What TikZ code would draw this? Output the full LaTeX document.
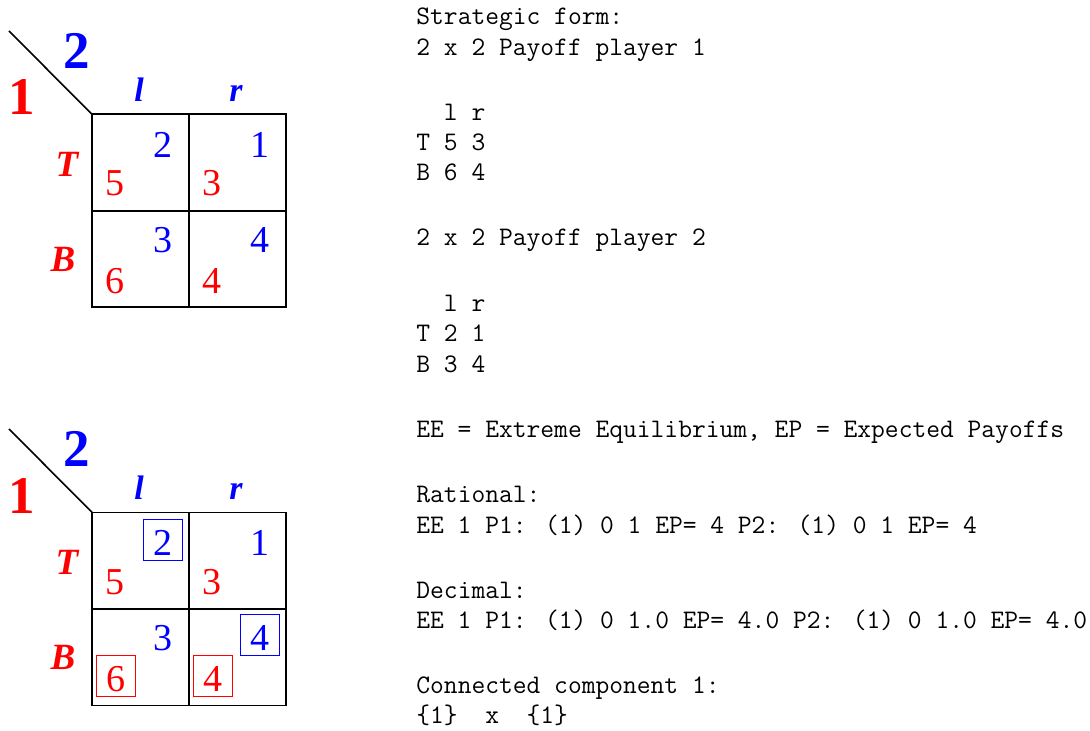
\documentclass[tikz,border=0pt]{standalone}
\usepackage{fontspec}
\newfontfamily\timesf{Liberation Serif}
\begin{document}
\begin{tikzpicture}[x=0.5pt,y=-0.5pt,
  gridline/.style={line width=0.8pt, black},
  player/.style={font=\timesf\bfseries\fontsize{26.5}{26.5}\selectfont, inner sep=0pt, anchor=base},
  stratcol/.style={font=\timesf\bfseries\itshape\fontsize{17}{17}\selectfont, inner sep=0pt, anchor=base, color=blue},
  stratrow/.style={font=\timesf\bfseries\itshape\fontsize{18.5}{18.5}\selectfont, inner sep=0pt, anchor=base, color=red},
  pay/.style={font=\timesf\fontsize{19}{19}\selectfont, inner sep=0pt, anchor=base},
  payA/.style={pay, color=red},
  payB/.style={pay, color=blue},
  boxed/.style={draw, line width=0.4pt, text height=18pt, text depth=2.5pt, minimum width=19.5pt},
  tline/.style={font=\ttfamily\fontsize{13.38}{15}\selectfont, inner sep=0pt, anchor=base west}
]
\useasboundingbox (0,0) rectangle (1090,731);

% ---------- Game 1 ----------
\coordinate (g1d) at (9,31);
\coordinate (g1nw) at (92,114.3);
\coordinate (g1se) at (286,307.3);
\draw[gridline] (g1d) -- (g1nw);
\draw[gridline] (g1nw) rectangle (g1se);
\draw[gridline] (189,114.3) -- (189,307.3);
\draw[gridline] (92,211) -- (286,211);
\node[player, color=blue] (g1p2) at (77,68.3) {2};
\node[player, color=red] (g1p1) at (22,115) {1};
\node[stratcol] (g1l) at (139,101.7) {l};
\node[stratcol] (g1r) at (236,101.7) {r};
\node[stratrow] (g1T) at (67,176.7) {T};
\node[stratrow] (g1B) at (63,271.7) {B};
\node[payB] (g1b11) at (163,157.3) {2};
\node[payB] (g1b12) at (260,157.3) {1};
\node[payB] (g1b21) at (163,252.3) {3};
\node[payB] (g1b22) at (260,252.3) {4};
\node[payA] (g1a11) at (115,196) {5};
\node[payA] (g1a12) at (212,196) {3};
\node[payA] (g1a21) at (115,293.5) {6};
\node[payA] (g1a22) at (212,293.5) {4};

% ---------- Game 2 ----------
\begin{scope}[shift={(0,398)}]
\coordinate (g2d) at (9,31);
\coordinate (g2nw) at (92,114.3);
\coordinate (g2se) at (286,307.3);
\draw[gridline] (g2d) -- (g2nw);
\draw[gridline] (g2nw) rectangle (g2se);
\draw[gridline] (189,114.3) -- (189,307.3);
\draw[gridline] (92,211) -- (286,211);
\node[player, color=blue] (g2p2) at (77,68.3) {2};
\node[player, color=red] (g2p1) at (22,115) {1};
\node[stratcol] (g2l) at (139,101.7) {l};
\node[stratcol] (g2r) at (236,101.7) {r};
\node[stratrow] (g2T) at (67,176.7) {T};
\node[stratrow] (g2B) at (63,271.7) {B};
\node[payB, boxed] (g2b11) at (163,157.3) {2};
\node[payB] (g2b12) at (260,157.3) {1};
\node[payB] (g2b21) at (163,252.3) {3};
\node[payB, boxed] (g2b22) at (260,252.3) {4};
\node[payA] (g2a11) at (115,196) {5};
\node[payA] (g2a12) at (212,196) {3};
\node[payA, boxed] (g2a21) at (116,293.5) {6};
\node[payA, boxed] (g2a22) at (213,293.5) {4};
\end{scope}

% ---------- Text ----------
\node[tline] (t01) at (416,25) {Strategic form:};
\node[tline] (t02) at (416,55.3) {2 x 2 Payoff player 1};
\node[tline] (t03) at (416,120.3) {\ \ l r};
\node[tline] (t04) at (416,150.6) {T 5 3};
\node[tline] (t05) at (416,181) {B 6 4};
\node[tline] (t06) at (416,246) {2 x 2 Payoff player 2};
\node[tline] (t07) at (416,311.5) {\ \ l r};
\node[tline] (t08) at (416,342) {T 2 1};
\node[tline] (t09) at (416,372.5) {B 3 4};
\node[tline] (t10) at (416,437.5) {EE = Extreme Equilibrium, EP = Expected Payoffs};
\node[tline] (t11) at (416,502.5) {Rational:};
\node[tline] (t12) at (416,533) {EE 1 P1: (1) 0 1 EP= 4 P2: (1) 0 1 EP= 4};
\node[tline] (t13) at (416,598) {Decimal:};
\node[tline] (t14) at (416,628.5) {EE 1 P1: (1) 0 1.0 EP= 4.0 P2: (1) 0 1.0 EP= 4.0};
\node[tline] (t15) at (416,693) {Connected component 1:};
\node[tline] (t16) at (416,723.5) {\{1\}\ \ x\ \ \{1\}};
\end{tikzpicture}
\end{document}
